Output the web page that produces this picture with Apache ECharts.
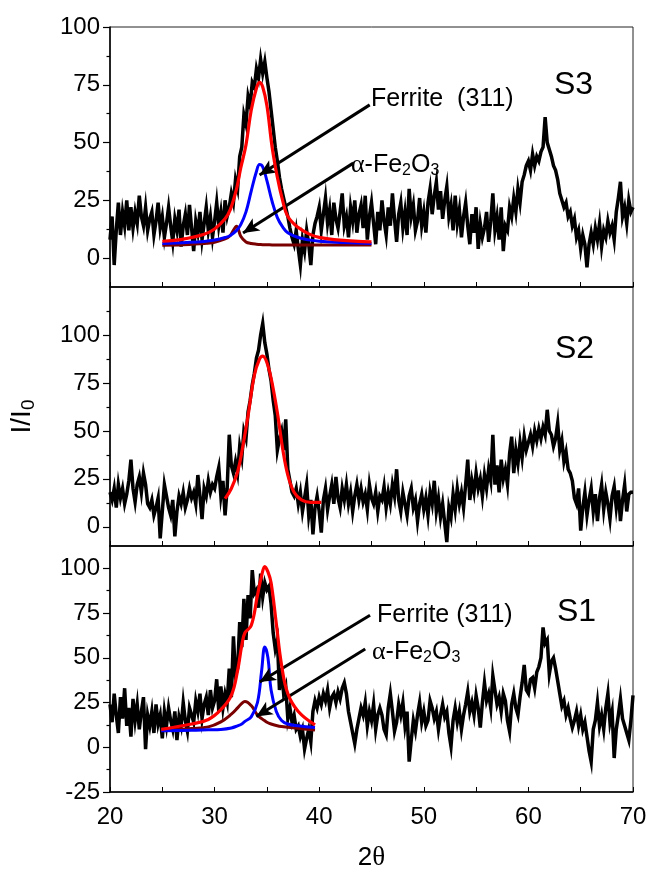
<!DOCTYPE html>
<html>
<head>
<meta charset="utf-8">
<script src="https://cdn.jsdelivr.net/npm/echarts@6/dist/echarts.min.js"></script>
<style>
  html, body { margin: 0; padding: 0; background: #fff; }
  #chart { width: 651px; height: 872px; }
</style>
</head>
<body>
<div id="chart"></div>
<script>
// XRD scans: intensity sampled every 0.2 degrees of 2θ from 20 to 70
const twoThetaStart = 20;
const twoThetaStep = 0.2;

const s3Intensity = [
  8, 18, -3, 12, 24, 10, 20, 14, 25, 12,
  22, 13, 20, 15, 27, 18, 14, 22, 12, 17,
  20, 10, 16, 24, 13, 18, 9, 15, 22, 14,
  7, 17, 12, 21, 5, 14, 19, 10, 23, 13,
  3, 16, 11, 20, 8, 15, 22, 12, 18, 9,
  16, 24, 14, 20, 11, 25, 18, 22, 28, 24,
  34, 30, 44, 48, 62, 58, 70, 66, 76, 74,
  82, 78, 86, 80, 85, 78, 72, 64, 56, 48,
  42, 35, 30, 26, 22, 18, 13, 9, 6, 12,
  4, -3, 8, 3, 12, 6, -3, 10, 15, 18,
  22, 12, 19, 26, 15, 21, 10, 24, 17, 13,
  20, 28, 14, 18, 9, 22, 16, 25, 11, 19,
  23, 13, 27, 8, 18, 24, 15, 6, 20, 12,
  25, 16, 10, 22, 14, 28, 17, 7, 19, 24,
  13, 20, 10, 30, 18, 23, 12, 16, 26, 14,
  20, 11, 24, 30, 19, 27, 33, 21, 29, 17,
  25, 31, 18, 23, 12, 27, 15, 21, 9, 18,
  24, 14, 6, 19, 11, 22, 4, 15, 9, 13,
  20, 7, 16, 28, 12, 18, 8, 22, 3, 14,
  12, 22, 18, 26, 20, 30, 24, 33, 36, 40,
  42, 38, 45, 40, 44, 42, 46, 48, 61, 50,
  47, 44, 40, 38, 34, 28, 25, 22, 24, 18,
  20, 14, 17, 9, 12, 4, 10, 6, -4, 6,
  11, 6, 13, 8, 15, 5, 12, 9, 16, 11,
  14, 8, 20, 26, 33, 18, 22, 15, 25, 20,
  22
];

const s2Intensity = [
  18, 14, 20, 10, 22, 15, 20, 12, 17, 24,
  35, 20, 13, 22, 26, 18, 28, 22, 12, 10,
  14, 6, 10, 15, -6, 8, 22, 16, 10, 6,
  14, -5, 8, 16, 12, 18, 10, 14, 20, 15,
  18, 12, 27, 16, 4, 20, 16, 24, 18, 22,
  20, 26, 31, 16, 24, 6, 20, 48, 32, 28,
  34, 28, 42, 36, 50, 46, 60, 66, 74, 80,
  88, 92, 100, 106, 96, 90, 82, 76, 66, 58,
  40, 46, 50, 40, 56, 30, 24, 18, 16, 20,
  12, 18, 8, 15, 22, 6, 14, -4, 10, 16,
  8, -3, 14, 20, 9, 16, 22, 12, 26, 15,
  10, 20, 14, 22, 12, 18, 8, 16, 22, 14,
  20, 13, 17, 9, 22, 15, 12, 18, 8, 16,
  14, 21, 10, 18, 12, 22, 16, 30, 14, 8,
  18, 12, 6, 16, 20, 10, 14, 3, 12, 17,
  9, 15, 6, 18, 12, 24, 8, 15, 5, 12,
  2, -8, 10, 5, 17, 9, 20, 12, 18, 10,
  22, 35, 14, 24, 18, 28, 20, 25, 16, 27,
  20, 30, 24, 48, 22, 32, 18, 35, 25, 30,
  22, 38, 47, 28, 40, 33, 44, 36, 47, 40,
  44, 48, 42, 50, 45, 51, 46, 52, 48, 61,
  50, 48, 42, 46, 54, 40, 45, 34, 39, 30,
  28, 24, 15, 12, 20, -2, 10, 18, 6, 14,
  20, 8, 17, 3, 15, 22, 9, 18, 12, 4,
  16, 21, 10, 19, 3, 14, 22, 8, 17, 18,
  18
];

const s1Intensity = [
  24, 14, 30, 18, 8, 28, 16, 33, 12, 22,
  6, 27, 15, 24, 10, 20, 28, -1, 18, 12,
  20, 8, 24, 13, 18, 5, 20, 12, 22, 15,
  10, 20, 4, 17, 12, 25, 15, 9, 22, 18,
  14, 26, 20, 30, 16, 24, 28, 18, 32, 22,
  26, 38, 20, 34, 22, 30, 25, 44, 28, 62,
  40, 44, 70, 56, 83, 60, 85, 72, 99, 86,
  88, 78, 97, 84, 92, 88, 90, 80, 64, 55,
  60, 32, 44, 30, 34, 16, 22, 14, 18, 10,
  12, 6, 10, -1, 5, 10, 3, 20, 26, 22,
  28, 24, 30, 26, 32, 22, 28, 30, 25, 31,
  27, 33, 36, 30, 20, 14, 8, 2, 10, 16,
  22, 18, 25, 12, 20, 15, 24, 10, 18, 22,
  18, 10, 7, 22, 30, 20, 9, 14, 24, 18,
  25, 12, 20, -8, 4, 15, 9, 18, 25, 14,
  20, 12, 15, 26, 22, 16, 20, 10, 18, 24,
  17, 20, 8, 0.5, 15, 22, 14, 20, 10, 18,
  24, 31, 20, 25, 18, 29, 22, 11, 25, 36,
  26, 30, 22, 40, 32, 24, 28, 20, 30, 26,
  15, 9, 24, 30, 22, 18, 28, 36, 46, 32,
  30, 38, 39, 33, 42, 45, 50, 67, 58, 60,
  41, 48, 50, 44, 37, 30, 23, 26, 18, 22,
  16, 11, 15, 20, 12, 18, 10, 14, 6, -2,
  -8, 10, 15, 25, 12, 18, 10, 22, 30, 14,
  20, -6, 10, 18, 27, 16, 12, 8, 4, 15,
  29
];

// Peak fits around the (311) reflection
const s3FitAngle    = [25, 27, 29, 30, 31, 31.5, 32.1, 32.5, 33, 33.5, 34, 34.3, 34.6, 35, 35.5, 36, 36.5, 37, 38, 39, 40, 42, 45];
const s3FitTotal    = [7.3, 8.2, 10.3, 12.6, 17, 21, 30, 39, 49, 64, 73.5, 76, 74, 66, 48, 35, 25, 18, 13.2, 10.5, 9, 7.8, 7];
const s3FitFerrite  = [6.3, 6.7, 7.2, 7.8, 8.9, 9.8, 12, 14.5, 20, 29, 37.5, 40.5, 39.5, 33.5, 24.5, 17.5, 13.5, 11, 8.9, 7.9, 7.3, 6.8, 6.3];
const s3FitHematite = [5.6, 5.8, 6.3, 6.9, 8.3, 9.8, 13.8, 9.5, 7, 6.3, 6, 5.9, 5.8, 5.8, 5.7, 5.7, 5.7, 5.7, 5.7, 5.7, 5.7, 5.7, 5.7];

const s2FitAngle = [31, 31.6, 32.2, 32.7, 33.2, 33.8, 34.3, 34.6, 35.1, 35.6, 36.1, 36.5, 37, 37.6, 38.3, 39.2, 40.2];
const s2FitTotal = [14.7, 20, 28.6, 42, 58, 79, 87.5, 89, 84, 72, 56, 41, 27, 18, 14, 12.7, 12.7];

const s1FitAngle    = [24.9, 27.8, 29.4, 30.6, 31.6, 32.2, 32.6, 32.9, 33.5, 34.1, 34.5, 34.8, 35.1, 35.4, 35.9, 36.4, 37, 38, 39.6];
const s1FitTotal    = [10, 13, 15.5, 21, 29, 43, 57, 64, 68, 85, 96, 101, 98, 92, 69, 46, 30, 20, 12.5];
const s1FitFerrite  = [9.3, 9.5, 9.8, 10, 10.8, 12, 13, 14.5, 17, 25, 43, 56, 50, 32, 20, 15, 13, 12, 11];
const s1FitHematite = [9.3, 10.5, 11.4, 14.2, 18.5, 22, 24.6, 25.6, 23.3, 18, 16, 14.8, 13.7, 13, 12.2, 11.6, 11.2, 10.6, 9.6];

// Annotation arrows: [from, to] in (2θ, I/I0)
const s3ArrowFerrite  = [[44.83, 66.3], [34.3, 36]];
const s3ArrowHematite = [[43.26, 41.1], [32.72, 10.9]];
const s1ArrowFerrite  = [[44.86, 73.8], [34.31, 36.5]];
const s1ArrowHematite = [[44.4, 54.9], [33.99, 17.2]];

// Axis ticks
const xTicks = [20, 30, 40, 50, 60, 70];
const yMajorTop = [0, 25, 50, 75, 100];
const yMinorTop = [12.5, 37.5, 62.5, 87.5];
const yMajorMid = [0, 25, 50, 75, 100];
const yMinorMid = [12.5, 37.5, 62.5, 87.5, 112.5];
const yMajorBot = [-25, 0, 25, 50, 75, 100];
const yMinorBot = [-12.5, 12.5, 37.5, 62.5, 87.5];

const FONT = '"Liberation Sans", Arial, Helvetica, sans-serif';
const SERIF = '"Liberation Serif", "DejaVu Serif", serif';

function pairs(xs, ys) { return ys.map((y, i) => [xs[i], y]); }
function scan(values) { return values.map((y, i) => [+(twoThetaStart + i * twoThetaStep).toFixed(2), y]); }

const panels = [
  { top: 27,  height: 260, min: -12.5, max: 100,   major: yMajorTop, minor: yMinorTop },
  { top: 287, height: 259, min: -10,   max: 125,   major: yMajorMid, minor: yMinorMid },
  { top: 546, height: 261, min: -25,   max: 112.5, major: yMajorBot, minor: yMinorBot }
];

const grids = panels.map(p => ({
  left: 110, width: 523, top: p.top, height: p.height,
  show: true, borderColor: '#222', borderWidth: 1, backgroundColor: 'transparent'
}));

const xAxes = panels.map((p, i) => ({
  type: 'value', gridIndex: i, min: 20, max: 70, interval: 10, position: 'bottom',
  axisLine: { show: true, onZero: false, lineStyle: { color: '#000', width: 1.5 } },
  axisTick: { show: true, inside: true, length: 5, lineStyle: { color: '#000', width: 1 } },
  minorTick: { show: true, splitNumber: 2, length: 5, lineStyle: { color: '#000', width: 1 } },
  splitLine: { show: false },
  axisLabel: {
    show: i === 2, color: '#000', fontFamily: FONT, fontSize: 24, margin: 13,
    customValues: xTicks
  },
  name: i === 2 ? '{a|2}{b|θ}' : '',
  nameLocation: 'middle', nameGap: 52,
  nameTextStyle: {
    rich: {
      a: { fontFamily: FONT, fontSize: 26, color: '#000' },
      b: { fontFamily: SERIF, fontSize: 27, color: '#000' }
    }
  }
}));

const yAxes = [];
panels.forEach((p, i) => {
  yAxes.push({
    type: 'value', gridIndex: i, min: p.min, max: p.max, position: 'left',
    axisLine: { show: true, onZero: false, lineStyle: { color: '#000', width: 1.5 } },
    axisTick: { show: true, inside: false, length: 7, customValues: p.major, lineStyle: { color: '#000', width: 1.2 } },
    axisLabel: { color: '#000', fontFamily: FONT, fontSize: 24, margin: 10, customValues: p.major },
    splitLine: { show: false },
    name: i === 1 ? '{a|I/I}{s|0}' : '',
    nameLocation: 'middle', nameRotate: 90, nameGap: 72,
    nameTextStyle: {
      rich: {
        a: { fontFamily: FONT, fontSize: 28, color: '#000', lineHeight: 32, verticalAlign: 'middle' },
        s: { fontFamily: FONT, fontSize: 19, color: '#000', lineHeight: 16, verticalAlign: 'bottom' }
      }
    }
  });
  yAxes.push({
    type: 'value', gridIndex: i, min: p.min, max: p.max, position: 'left',
    axisLine: { show: false, onZero: false },
    axisTick: { show: true, inside: false, length: 3.5, customValues: p.minor, lineStyle: { color: '#000', width: 1.2 } },
    axisLabel: { show: false },
    splitLine: { show: false }
  });
});

function line(data, panel, color, width, z, smooth) {
  return {
    type: 'line', data, xAxisIndex: panel, yAxisIndex: panel * 2,
    showSymbol: false, symbol: 'none', smooth: smooth || false,
    lineStyle: { color, width, join: 'miter' }, z, silent: true, animation: false
  };
}

function arrows(panel, list) {
  return {
    type: 'line', data: [], xAxisIndex: panel, yAxisIndex: panel * 2, z: 20, silent: true,
    markLine: {
      silent: true, animation: false,
      symbol: ['none', 'arrow'], symbolSize: [11, 16],
      lineStyle: { color: '#000', width: 3, type: 'solid' },
      label: { show: false },
      data: list.map(a => [{ coord: a[0] }, { coord: a[1] }])
    }
  };
}

const RED = '#ff0000', BLUE = '#0000ff', MAROON = '#7a0000';

const series = [
  line(scan(s3Intensity), 0, '#000', 3.5, 2),
  line(pairs(s3FitAngle, s3FitHematite), 0, MAROON, 3, 3, 0.35),
  line(pairs(s3FitAngle, s3FitFerrite), 0, BLUE, 3, 4, 0.4),
  line(pairs(s3FitAngle, s3FitTotal), 0, RED, 3.2, 5, 0.4),
  arrows(0, [s3ArrowFerrite, s3ArrowHematite]),

  line(scan(s2Intensity), 1, '#000', 3.5, 2),
  line(pairs(s2FitAngle, s2FitTotal), 1, RED, 3.2, 5, 0.4),

  line(scan(s1Intensity), 2, '#000', 3.5, 2),
  line(pairs(s1FitAngle, s1FitHematite), 2, MAROON, 3, 3, 0.4),
  line(pairs(s1FitAngle, s1FitFerrite), 2, BLUE, 3, 4, 0.4),
  line(pairs(s1FitAngle, s1FitTotal), 2, RED, 3.2, 5, 0.4),
  arrows(2, [s1ArrowFerrite, s1ArrowHematite])
];

function label(x, y, text, size) {
  return { type: 'text', x, y, z: 30, silent: true,
    style: { text, font: size + 'px ' + FONT, fill: '#000', verticalAlign: 'middle', align: 'left' } };
}
function hematite(x, y) {
  return { type: 'text', x, y, z: 30, silent: true,
    style: {
      text: '{g|α}{t|-Fe}{s|2}{t|O}{s|3}', verticalAlign: 'middle', align: 'left',
      rich: {
        g: { fontFamily: SERIF, fontSize: 26, fill: '#000', lineHeight: 28, verticalAlign: 'middle' },
        t: { fontFamily: FONT, fontSize: 25, fill: '#000', lineHeight: 28, verticalAlign: 'middle' },
        s: { fontFamily: FONT, fontSize: 16, fill: '#000', lineHeight: 14, verticalAlign: 'bottom' }
      }
    } };
}

const chart = echarts.init(document.getElementById('chart'), null, { renderer: 'canvas' });
chart.setOption({
  animation: false,
  backgroundColor: '#fff',
  grid: grids,
  xAxis: xAxes,
  yAxis: yAxes,
  series,
  graphic: [
    label(371, 99, 'Ferrite  (311)', 25),
    hematite(351, 165),
    label(554, 85, 'S3', 32),
    label(555, 349, 'S2', 32),
    label(377, 615, 'Ferrite (311)', 25),
    hematite(372, 652),
    label(557, 612, 'S1', 32)
  ]
});
</script>
</body>
</html>
